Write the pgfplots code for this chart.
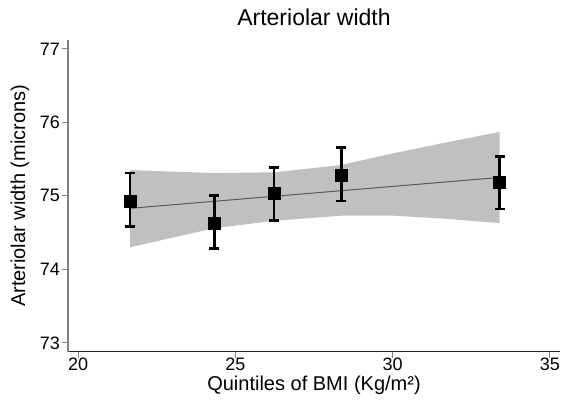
\documentclass[border=0pt]{standalone}
\usepackage{pgfplots}
\pgfplotsset{compat=1.18}
\usepackage{fontspec}
\setmainfont{Liberation Sans}
\definecolor{bandgray}{RGB}{192,192,192}
\definecolor{axgray}{RGB}{128,128,128}
\begin{document}
\begin{tikzpicture}
\begin{axis}[
  name=ax,
  scale only axis,
  width=492pt, height=311.7pt,
  xmin=19.68, xmax=35.32,
  ymin=72.88, ymax=77.12,
  xtick={20,25,30,35},
  ytick={73,74,75,76,77},
  axis x line=bottom, axis y line=left,
  x axis line style={-, line width=1.1pt, black!85},
  y axis line style={-, line width=1.3pt, axgray},
  tick align=outside,
  major tick length=6pt,
  every tick/.style={axgray, line width=1pt},
  /pgf/number format/assume math mode=true,
  tick label style={font=\fontsize{18}{18}\selectfont},
  xticklabel style={anchor=north, inner sep=0pt},
  yticklabel style={anchor=east, inner sep=0pt, xshift=-2pt},
  title={Arteriolar width},
  title style={font=\fontsize{23}{23}\selectfont, at={(axis description cs:0.5,1)}, anchor=base, yshift=8.3pt},
  xlabel={Quintiles of BMI (Kg/m²)},
  xlabel style={font=\fontsize{20}{20}\selectfont, at={(axis description cs:0.5,0)}, anchor=base, yshift=-39pt},
  ylabel={Arteriolar width (microns)},
  ylabel style={font=\fontsize{20}{20}\selectfont, at={(axis description cs:-0.0976,0.5)}, anchor=center, rotate=0},
  clip=false,
]
% confidence band
\addplot[fill=bandgray, draw=none] coordinates {
  (21.65,75.35) (24.33,75.31) (26.23,75.32) (28.37,75.42) (30.03,75.58) (31.62,75.72) (33.40,75.87)
  (33.40,74.63) (31.62,74.69) (30.03,74.73) (28.37,74.73) (26.23,74.66) (24.33,74.56) (21.65,74.30)
};
% fit line
\addplot[black!65, line width=1pt] coordinates {(21.65,74.83) (33.40,75.25)};
% means with CI
\addplot[only marks, mark=square*, mark size=6pt, black,
  error bars/.cd, y dir=both, y explicit,
  error bar style={line width=2.8pt, black},
  error mark options={rotate=90, mark size=5pt, line width=2.8pt, black}]
  table[x=x, y=y, y error plus=ep, y error minus=em] {
x y ep em
21.65 74.93 0.38 0.35
24.33 74.63 0.37 0.35
26.23 75.03 0.36 0.36
28.37 75.28 0.38 0.35
33.40 75.18 0.35 0.36
};
\end{axis}
\pgfresetboundingbox
\path[use as bounding box] ([xshift=-68pt,yshift=-49.3pt]ax.south west) rectangle ([xshift=3pt,yshift=40pt]ax.north east);
\end{tikzpicture}
\end{document}
